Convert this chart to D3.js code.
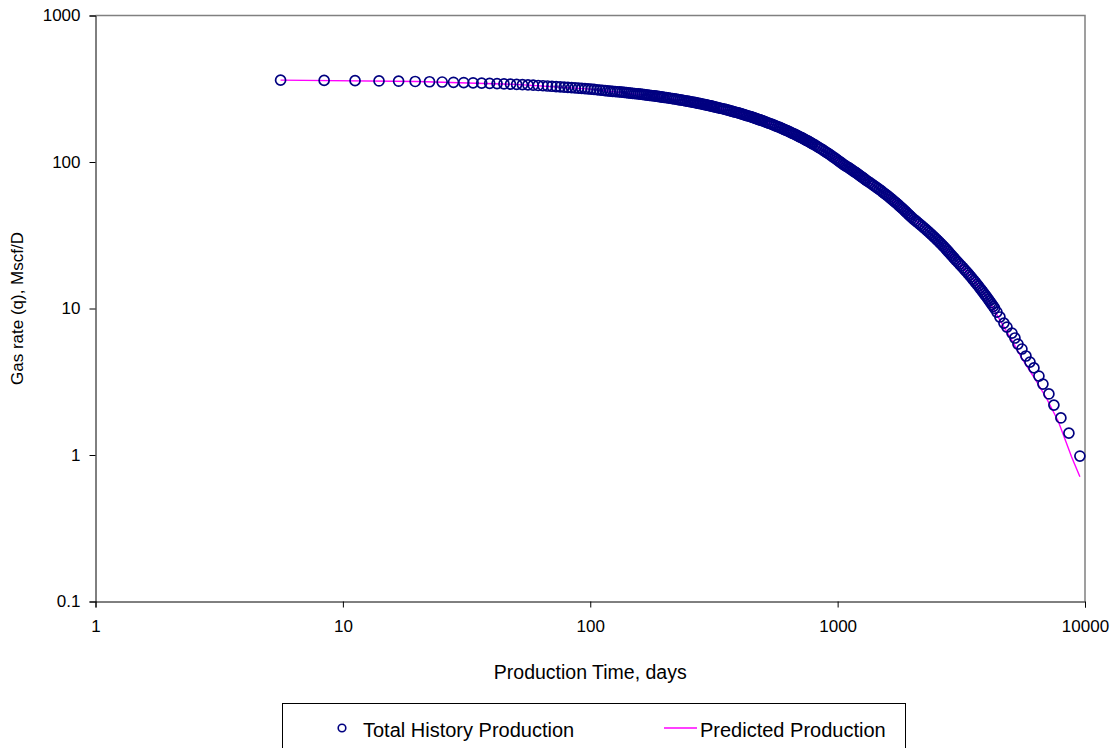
<!DOCTYPE html>
<html>
<head>
<meta charset="utf-8">
<script src="https://cdn.jsdelivr.net/npm/d3@7"></script>
<style>
  html, body { margin: 0; padding: 0; background: #fff; }
  svg { display: block; }
  text { font-family: "Liberation Sans", Arial, sans-serif; fill: #000; }
</style>
</head>
<body>
<svg id="chart" width="1120" height="748"></svg>
<script>
// Production history: time on production (days) and measured gas rate (Mscf/D)
const historyDays = [
  5.6, 8.4, 11.2, 14, 16.8, 19.6, 22.4, 25.2, 28, 30.8, 33.6, 36.4, 39.2, 42, 44.8, 47.6,
  50.4, 53.2, 56, 58.8, 61.6, 64.4, 67.2, 70, 72.8, 75.6, 78.4, 81.2, 84, 86.8, 89.6, 92.4,
  95.2, 98, 100.8, 103.6, 106.4, 109.2, 112, 114.8, 117.6, 120.4,
  123.2, 126, 128.8, 131.6, 134.4, 137.2, 140, 142.8, 145.6, 148.4, 151.2, 154, 156.8, 159.6,
  162.4, 165.2, 168, 170.8, 173.6, 176.4, 179.2, 182, 184.8, 187.6, 190.4, 193.2, 196, 198.8,
  202.8, 206.8, 210.8, 214.8, 218.8, 222.8, 226.8, 230.8, 234.8, 238.8, 242.8, 246.8, 250.8,
  254.8, 258.8, 262.8, 266.8, 270.8, 274.8, 278.8, 282.8, 286.8, 290.8, 294.8, 298.8, 302.8,
  306.8, 310.8, 314.8, 318.8,
  324.8, 330.8, 336.8, 342.8, 348.8, 354.8, 360.8, 366.8, 372.8, 378.8, 384.8, 390.8, 396.8,
  402.8, 408.8, 414.8, 420.8, 426.8, 432.8, 438.8, 444.8, 450.8, 456.8, 462.8, 468.8, 474.8,
  480.8, 486.8, 492.8, 498.8,
  507.8, 516.8, 525.8, 534.8, 543.8, 552.8, 561.8, 570.8, 579.8, 588.8, 597.8, 606.8, 615.8,
  624.8, 633.8, 642.8, 651.8, 660.8, 669.8, 678.8, 687.8, 696.8, 705.8, 714.8, 723.8, 732.8,
  741.8, 750.8, 759.8, 768.8, 777.8, 786.8, 795.8,
  810.8, 825.8, 840.8, 855.8, 870.8, 885.8, 900.8, 915.8, 930.8, 945.8, 960.8, 975.8, 990.8,
  1005.8, 1020.8, 1035.8, 1050.8, 1065.8, 1080.8, 1095.8, 1110.8, 1125.8, 1140.8, 1155.8,
  1170.8, 1185.8, 1200.8, 1215.8, 1230.8, 1245.8, 1260.8, 1275.8, 1290.8, 1305.8,
  1329.8, 1353.8, 1377.8, 1401.8, 1425.8, 1449.8, 1473.8, 1497.8, 1521.8, 1545.8, 1569.8,
  1593.8, 1617.8, 1641.8, 1665.8, 1689.8, 1713.8, 1737.8, 1761.8, 1785.8, 1809.8, 1833.8,
  1857.8, 1881.8, 1905.8, 1929.8, 1953.8, 1977.8, 2001.8,
  2037.8, 2073.8, 2109.8, 2145.8, 2181.8, 2217.8, 2253.8, 2289.8, 2325.8, 2361.8, 2397.8,
  2433.8, 2469.8, 2505.8, 2541.8, 2577.8, 2613.8, 2649.8, 2685.8, 2721.8, 2757.8, 2793.8,
  2829.8, 2865.8, 2901.8, 2937.8, 2973.8, 3009.8,
  3059.8, 3109.8, 3159.8, 3209.8, 3259.8, 3309.8, 3359.8, 3409.8, 3459.8, 3509.8, 3559.8,
  3609.8, 3659.8, 3709.8, 3759.8, 3809.8, 3859.8, 3909.8, 3959.8, 4009.8, 4059.8, 4109.8,
  4159.8, 4209.8, 4259.8, 4309.8,
  4405, 4530, 4702, 4835, 5066, 5209, 5357, 5559, 5772, 5991, 6217, 6512, 6759, 7146, 7486,
  7990, 8608, 9537
];
const historyRate = [
  362.0, 360.5, 359.0, 357.5, 356.0, 354.5, 353.0, 351.5, 350.1, 348.6, 347.2, 345.7, 344.3, 342.8, 341.4, 340.0,
  338.6, 337.2, 335.7, 334.3, 332.9, 331.6, 330.2, 328.8, 327.4, 326.1, 324.7, 323.3, 322.0, 320.6, 319.3, 318.0,
  316.6, 315.3, 314.0, 312.7, 311.4, 310.1, 308.8, 307.5, 306.2, 304.9,
  303.83, 302.77, 301.71, 300.66, 299.61, 298.56, 297.52, 296.48, 295.44, 294.41, 293.38, 292.36, 291.34, 290.32,
  289.31, 288.30, 287.29, 286.29, 285.29, 284.29, 283.30, 282.31, 281.32, 280.34, 279.36, 278.38, 277.41, 276.44,
  275.06, 273.69, 272.32, 270.96, 269.61, 268.27, 266.93, 265.60, 264.28, 262.96, 261.65, 260.34, 259.04,
  257.75, 256.46, 255.18, 253.91, 252.64, 251.38, 250.13, 248.88, 247.64, 246.40, 245.17, 243.95, 242.73,
  241.52, 240.32, 239.12, 237.93,
  236.18, 234.44, 232.72, 231.01, 229.31, 227.62, 225.95, 224.29, 222.64, 221.00, 219.38, 217.77, 216.17,
  214.58, 213.00, 211.43, 209.88, 208.34, 206.81, 205.29, 203.78, 202.28, 200.79, 199.31, 197.85, 196.40,
  194.95, 193.52, 192.09, 190.68,
  188.60, 186.54, 184.50, 182.49, 180.50, 178.53, 176.58, 174.65, 172.74, 170.85, 168.98, 167.14, 165.32,
  163.51, 161.72, 159.95, 158.20, 156.47, 154.76, 153.07, 151.40, 149.75, 148.11, 146.49, 144.89, 143.31,
  141.75, 140.20, 138.67, 137.16, 135.66, 134.18, 132.71,
  130.26, 127.86, 125.50, 123.19, 120.92, 118.69, 116.50, 114.36, 112.25, 110.18, 108.15, 106.16, 104.20,
  102.28, 100.40, 98.55, 96.73, 95.29, 93.87, 92.47, 91.09, 89.73, 88.40, 87.08,
  85.78, 84.51, 83.25, 82.01, 80.79, 79.59, 78.41, 77.24, 76.09, 74.96,
  73.45, 71.97, 70.51, 69.09, 67.69, 66.32, 64.98, 63.67, 62.38, 61.12, 59.89,
  58.68, 57.50, 56.34, 55.20, 54.09, 52.99, 51.92, 50.87, 49.84, 48.84, 47.85,
  46.89, 45.94, 45.01, 44.10, 43.21, 42.34, 41.48,
  40.51, 39.56, 38.63, 37.72, 36.83, 35.97, 35.13, 34.31, 33.50, 32.71, 31.94,
  31.19, 30.46, 29.74, 29.04, 28.36, 27.69, 27.04, 26.41, 25.79, 25.18, 24.59,
  24.01, 23.45, 22.90, 22.36, 21.83, 21.32,
  20.71, 20.12, 19.54, 18.98, 18.44, 17.91, 17.40, 16.90, 16.42, 15.95, 15.49,
  15.05, 14.62, 14.20, 13.79, 13.40, 13.02, 12.65, 12.29, 11.94, 11.60, 11.27,
  10.95, 10.64, 10.34, 10.04,
  9.46, 8.75, 7.95, 7.47, 6.80, 6.29, 5.72, 5.29, 4.74, 4.31, 3.93, 3.46, 3.05, 2.61, 2.19,
  1.79, 1.41, 0.984
];

// Decline-curve forecast (Mscf/D)
const predictedDays = [
  5.6, 20, 50, 100, 200, 300, 400, 500, 600, 700, 800, 900, 1000, 1200, 1400, 1600, 1800,
  2000, 2200, 2400, 2700, 3000, 3300, 3600, 3900, 4300, 4700, 5100, 5542, 6200, 6995, 7795,
  8166, 8830, 9537
];
const predictedRate = [
  362, 354.5, 338.8, 314.3, 276.0, 243.6, 215.3, 190.4, 168.5, 149.2, 132.0, 116.6, 103.0, 83.3, 69.2, 58.4, 49.25,
  41.5, 36.4, 31.9, 26.16, 21.4, 18.0, 15.13, 12.6, 9.7, 7.5, 5.95, 4.6, 3.42, 2.43, 1.7,
  1.38, 0.97, 0.711
];

// Axis tick values and labels
const xTicks = [1, 10, 100, 1000, 10000];
const xTickLabels = ["1", "10", "100", "1000", "10000"];
const yTicks = [0.1, 1, 10, 100, 1000];
const yTickLabels = ["0.1", "1", "10", "100", "1000"];

const seriesNames = ["Total History Production", "Predicted Production"];
const xTitle = "Production Time, days";
const yTitle = "Gas rate (q), Mscf/D";

const svg = d3.select("#chart");
const plot = { left: 95.5, top: 15.5, right: 1085, bottom: 601.5 };

const x = d3.scaleLog().domain([1, 10000]).range([plot.left, plot.right]);
const y = d3.scaleLog().domain([0.1, 1000]).range([plot.bottom, plot.top]);

// Plot frame: grey top/right border
svg.append("path")
  .attr("d", `M${plot.left},${plot.top}H${plot.right}V${plot.bottom}`)
  .attr("fill", "none").attr("stroke", "#808080").attr("stroke-width", 1.5);

// Axes
const xAxis = d3.axisBottom(x).tickValues(xTicks)
  .tickFormat((d, i) => xTickLabels[i]).tickSizeOuter(0).tickSize(6).tickPadding(12);
const yAxis = d3.axisLeft(y).tickValues(yTicks)
  .tickFormat((d, i) => yTickLabels[i]).tickSizeOuter(0).tickSize(6).tickPadding(9);

const gx = svg.append("g").attr("transform", `translate(0,${plot.bottom})`).call(xAxis);
const gy = svg.append("g").attr("transform", `translate(${plot.left},0)`).call(yAxis);
[gx, gy].forEach(g => {
  g.selectAll("path, line").attr("stroke", "#000").attr("stroke-width", 1);
  g.selectAll("text").attr("font-size", 17).attr("font-family", '"Liberation Sans", Arial, sans-serif').attr("fill", "#000");
});

// Axis titles
svg.append("text")
  .attr("x", (plot.left + plot.right) / 2).attr("y", 679)
  .attr("text-anchor", "middle").attr("font-size", 19.5).text(xTitle);
svg.append("text")
  .attr("transform", `translate(23,${(plot.top + plot.bottom) / 2}) rotate(-90)`)
  .attr("text-anchor", "middle").attr("font-size", 17).text(yTitle);

// Forecast line, drawn under the markers
const line = d3.line().x(d => x(d[0])).y(d => y(d[1]));
svg.append("path")
  .datum(predictedDays.map((d, i) => [d, predictedRate[i]]))
  .attr("d", line)
  .attr("fill", "none").attr("stroke", "#FF00FF").attr("stroke-width", 1.4);

// History markers
svg.append("g").selectAll("circle")
  .data(historyDays.map((d, i) => [d, historyRate[i]]))
  .join("circle")
  .attr("cx", d => x(d[0])).attr("cy", d => y(d[1]))
  .attr("r", 5)
  .attr("fill", "none").attr("stroke", "#000080").attr("stroke-width", 1.7);

// Legend
const lg = svg.append("g");
lg.append("rect").attr("x", 282.5).attr("y", 703.5).attr("width", 623).attr("height", 80)
  .attr("fill", "#fff").attr("stroke", "#000").attr("stroke-width", 1);
lg.append("circle").attr("cx", 342).attr("cy", 728).attr("r", 3.8)
  .attr("fill", "none").attr("stroke", "#000080").attr("stroke-width", 1.6);
lg.append("text").attr("x", 363).attr("y", 737).attr("font-size", 20).text(seriesNames[0]);
lg.append("line").attr("x1", 664).attr("x2", 697).attr("y1", 728).attr("y2", 728)
  .attr("stroke", "#FF00FF").attr("stroke-width", 1.5);
lg.append("text").attr("x", 700).attr("y", 737).attr("font-size", 20).text(seriesNames[1]);
</script>
</body>
</html>
